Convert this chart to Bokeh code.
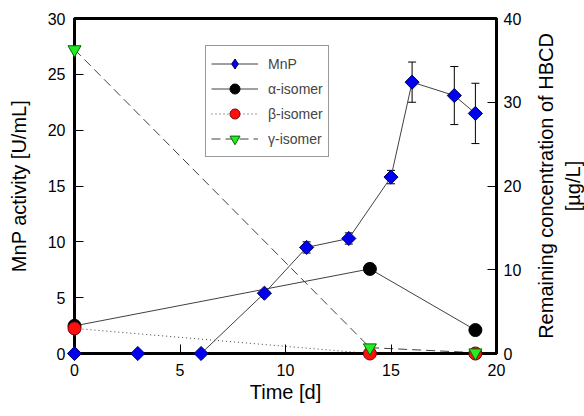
import math
from bokeh.plotting import figure
from bokeh.layouts import row
from bokeh.models import (Range1d, LinearAxis, Legend, LegendItem, Whisker,
                          ColumnDataSource, TeeHead, FixedTicker)
from bokeh.embed import file_html
from bokeh.resources import INLINE

# ---- data ----
days_mnp = [0, 3, 6, 9, 11, 13, 15, 16, 18, 19]
mnp = [0, 0, 0, 5.4, 9.5, 10.3, 15.8, 24.3, 23.1, 21.5]
mnp_err = [0, 0, 0, 0, 0.5, 0.5, 0.6, 1.8, 2.6, 2.7]
days_iso = [0, 14, 19]
alpha = [3.3, 10.1, 2.8]
beta = [3.0, 0.0, 0.0]
gamma = [36.3, 0.7, 0.1]
x_ticks = [0, 5, 10, 15, 20]
left_ticks = [0, 5, 10, 15, 20, 25, 30]
right_ticks = [0, 10, 20, 30, 40]
right_label_lines = ["Remaining concentration of HBCD", "[µg/L]"]

FONT = "Liberation Sans"

fig = figure(width=524, height=414, output_backend="svg", toolbar_location=None,
             x_range=Range1d(0, 20), y_range=Range1d(0, 30),
             min_border_left=74, min_border_top=18, min_border_right=28,
             min_border_bottom=61)
fig.extra_y_ranges = {"right": Range1d(0, 40)}
fig.grid.visible = False
fig.outline_line_color = "black"
fig.outline_line_width = 3
fig.background_fill_color = "white"
fig.border_fill_color = "white"

def style_axis(ax, ticks):
    ax.ticker = FixedTicker(ticks=ticks)
    ax.axis_line_width = 3
    ax.major_tick_in = 9
    ax.major_tick_out = 0
    ax.major_tick_line_width = 1
    ax.minor_tick_line_color = None
    ax.major_label_text_font = FONT
    ax.major_label_text_font_size = "16px"
    ax.major_label_text_color = "black"
    ax.axis_label_text_font = FONT
    ax.axis_label_text_font_size = "20px"
    ax.axis_label_text_font_style = "normal"
    ax.axis_label_text_color = "black"

style_axis(fig.xaxis[0], x_ticks)
fig.xaxis[0].axis_label = "Time [d]"
fig.xaxis[0].major_label_standoff = 10
fig.xaxis[0].axis_label_standoff = 2
style_axis(fig.yaxis[0], left_ticks)
fig.yaxis[0].axis_label = "MnP activity [U/mL]"
fig.yaxis[0].major_label_standoff = 9
fig.yaxis[0].axis_label_standoff = 15

ry = LinearAxis(y_range_name="right")
style_axis(ry, right_ticks)
ry.major_label_standoff = 7
fig.add_layout(ry, "right")

LC = "#404040"
# alpha
la = fig.line(days_iso, alpha, y_range_name="right", line_color=LC, line_width=1)
sa = fig.scatter(days_iso, alpha, y_range_name="right", marker="circle", size=13,
                 fill_color="black", line_color="black")
# beta
lb = fig.line(days_iso, beta, y_range_name="right", line_color=LC, line_width=1,
              line_dash="1 3")
sb = fig.scatter(days_iso, beta, y_range_name="right", marker="circle", size=13,
                 fill_color="#ff1010", line_color="#800000")
# gamma
lg = fig.line(days_iso, gamma, y_range_name="right", line_color=LC, line_width=1,
              line_dash="9 5")
sg = fig.scatter(days_iso, gamma, y_range_name="right", marker="inverted_triangle",
                 size=13, fill_color="#22ee22", line_color="#006600")
# MnP
src = ColumnDataSource(dict(x=days_mnp, y=mnp,
                            up=[v + e for v, e in zip(mnp, mnp_err)],
                            lo=[v - e for v, e in zip(mnp, mnp_err)]))
w = Whisker(base="x", upper="up", lower="lo", source=src, line_color="black",
            line_width=1,
            upper_head=TeeHead(size=8, line_color="black", line_width=1),
            lower_head=TeeHead(size=8, line_color="black", line_width=1))
fig.add_layout(w)
lm = fig.line("x", "y", source=src, line_color=LC, line_width=1)
sm = fig.scatter("x", "y", source=src, marker="square", angle=math.pi / 4, size=10,
                 fill_color="#0000ee", line_color="#000066")
# zero-size diamond renderer used only for the legend symbol
sm_leg = fig.scatter("x", "y", source=src, marker="diamond", size=0,
                     fill_color="#0000ee", line_color="#000066")

for r in (sa, sb, sg, sm):
    r.level = "overlay"

legend = Legend(items=[
    LegendItem(label="MnP", renderers=[lm, sm_leg]),
    LegendItem(label="α-isomer", renderers=[la, sa]),
    LegendItem(label="β-isomer", renderers=[lb, sb]),
    LegendItem(label="γ-isomer", renderers=[lg, sg]),
], location=(131, 196))
legend.glyph_width = 47
legend.glyph_height = 25
legend.spacing = 0
legend.padding = 5
legend.label_standoff = 10
legend.label_text_font = FONT
legend.label_text_font_size = "14px"
legend.border_line_color = "#333333"
legend.border_line_width = 1
legend.background_fill_alpha = 1
fig.add_layout(legend)

# narrow companion figure carrying the right-hand axis title (two lines)
side = figure(width=60, height=414, output_backend="svg", toolbar_location=None,
              x_range=Range1d(0, 1), y_range=Range1d(0, 40),
              x_axis_location=None, y_axis_location=None,
              min_border_left=59, min_border_right=0, min_border_top=18,
              min_border_bottom=61)
side.grid.visible = False
side.outline_line_color = None
side.background_fill_color = "white"
side.border_fill_color = "white"
for txt, standoff in ((right_label_lines[1], 0), (right_label_lines[0], 2)):
    ax = LinearAxis(axis_label=txt)
    style_axis(ax, [])
    ax.axis_line_color = None
    ax.major_tick_line_color = None
    ax.major_tick_in = 0
    ax.major_label_standoff = 0
    ax.axis_label_standoff = standoff
    side.add_layout(ax, "left")

p = row(fig, side)

open("out.html", "w").write(file_html(p, INLINE))
